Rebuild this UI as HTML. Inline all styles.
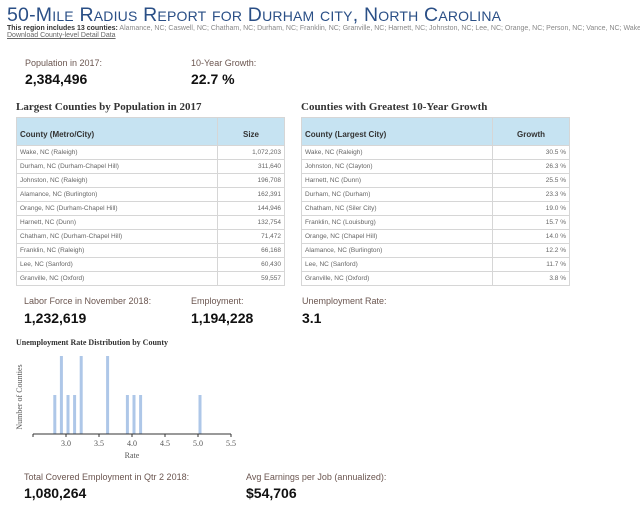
<!DOCTYPE html>
<html><head><meta charset="utf-8"><style>
body{margin:0;width:640px;height:506px;overflow:hidden;background:#fff;font-family:"Liberation Sans",sans-serif;position:relative}
.a{position:absolute;white-space:nowrap}
.title{left:7px;top:4px;font-size:19.5px;font-variant:small-caps;color:#2a4f86;letter-spacing:0.2px}
.lbl{font-size:9px;color:#6b5650}
.val{font-size:14px;font-weight:bold;color:#111}
.sec{font-family:"Liberation Serif",serif;font-weight:bold;font-size:11px;color:#333}
table{position:absolute;border-collapse:collapse;font-size:6.5px;color:#666}
th{background:#c6e3f2;font-size:8px;color:#333;height:28px;text-align:left;padding:6px 3px 0;border:1px solid #d6d6d6;vertical-align:middle;box-sizing:border-box}
th.r{text-align:center}
td{height:13px;padding:0 3px;border:1px solid #d6d6d6}
td.r{text-align:right}
</style></head><body>
<div class="a title">50-Mile Radius Report for Durham city, North Carolina</div>
<div class="a" style="left:7px;top:25px;font-size:7px;color:#888"><b style="color:#333">This region includes 13 counties:</b> Alamance, NC; Caswell, NC; Chatham, NC; Durham, NC; Franklin, NC; Granville, NC; Harnett, NC; Johnston, NC; Lee, NC; Orange, NC; Person, NC; Vance, NC; Wake</div>
<div class="a" style="left:7px;top:32px;font-size:7px;color:#666;text-decoration:underline">Download County-level Detail Data</div>

<div class="a lbl" style="left:25px;top:58px">Population in 2017:</div>
<div class="a val" style="left:25px;top:71px">2,384,496</div>
<div class="a lbl" style="left:191px;top:58px">10-Year Growth:</div>
<div class="a val" style="left:191px;top:71px">22.7 %</div>

<div class="a sec" style="left:16px;top:101px">Largest Counties by Population in 2017</div>
<div class="a sec" style="left:301px;top:101px">Counties with Greatest 10-Year Growth</div>

<table style="left:16px;top:117px;width:269px">
<tr><th style="width:201px">County (Metro/City)</th><th class="r">Size</th></tr>
<tr><td>Wake, NC (Raleigh)</td><td class="r">1,072,203</td></tr>
<tr><td>Durham, NC (Durham-Chapel Hill)</td><td class="r">311,640</td></tr>
<tr><td>Johnston, NC (Raleigh)</td><td class="r">196,708</td></tr>
<tr><td>Alamance, NC (Burlington)</td><td class="r">162,391</td></tr>
<tr><td>Orange, NC (Durham-Chapel Hill)</td><td class="r">144,946</td></tr>
<tr><td>Harnett, NC (Dunn)</td><td class="r">132,754</td></tr>
<tr><td>Chatham, NC (Durham-Chapel Hill)</td><td class="r">71,472</td></tr>
<tr><td>Franklin, NC (Raleigh)</td><td class="r">66,168</td></tr>
<tr><td>Lee, NC (Sanford)</td><td class="r">60,430</td></tr>
<tr><td>Granville, NC (Oxford)</td><td class="r">59,557</td></tr>
</table>
<table style="left:301px;top:117px;width:269px">
<tr><th style="width:191px">County (Largest City)</th><th class="r">Growth</th></tr>
<tr><td>Wake, NC (Raleigh)</td><td class="r">30.5 %</td></tr>
<tr><td>Johnston, NC (Clayton)</td><td class="r">26.3 %</td></tr>
<tr><td>Harnett, NC (Dunn)</td><td class="r">25.5 %</td></tr>
<tr><td>Durham, NC (Durham)</td><td class="r">23.3 %</td></tr>
<tr><td>Chatham, NC (Siler City)</td><td class="r">19.0 %</td></tr>
<tr><td>Franklin, NC (Louisburg)</td><td class="r">15.7 %</td></tr>
<tr><td>Orange, NC (Chapel Hill)</td><td class="r">14.0 %</td></tr>
<tr><td>Alamance, NC (Burlington)</td><td class="r">12.2 %</td></tr>
<tr><td>Lee, NC (Sanford)</td><td class="r">11.7 %</td></tr>
<tr><td>Granville, NC (Oxford)</td><td class="r">3.8 %</td></tr>
</table>

<div class="a lbl" style="left:24px;top:296px">Labor Force in November 2018:</div>
<div class="a val" style="left:24px;top:310px">1,232,619</div>
<div class="a lbl" style="left:191px;top:296px">Employment:</div>
<div class="a val" style="left:191px;top:310px">1,194,228</div>
<div class="a lbl" style="left:302px;top:296px">Unemployment Rate:</div>
<div class="a val" style="left:302px;top:310px">3.1</div>

<div class="a sec" style="left:16px;top:338px;font-size:8px">Unemployment Rate Distribution by County</div>
<svg class="a" style="left:0;top:345px" width="250" height="115" id="chart"></svg>

<div class="a lbl" style="left:24px;top:472px">Total Covered Employment in Qtr 2 2018:</div>
<div class="a val" style="left:24px;top:485px">1,080,264</div>
<div class="a lbl" style="left:246px;top:472px">Avg Earnings per Job (annualized):</div>
<div class="a val" style="left:246px;top:485px">$54,706</div>

<script>
const rates=[2.8,2.9,3.0,3.1,3.2,3.6,3.9,4.0,4.1,5.0];
const counts=[1,2,1,1,2,2,1,1,1,1];
const ticks=[3.0,3.5,4.0,4.5,5.0,5.5];
const tickLabels=["3.0","3.5","4.0","4.5","5.0","5.5"];
const NS="http://www.w3.org/2000/svg";
const svg=document.getElementById('chart');
const X0=33,X1=231,BASE=89,TOPY=11;
const xs=v=>X0+(v-2.5)/3*(X1-X0);
const ys=c=>BASE-c/2*(BASE-TOPY);
function mk(t,a){const e=document.createElementNS(NS,t);for(const k in a)e.setAttribute(k,a[k]);svg.appendChild(e);return e;}
rates.forEach((r,i)=>{
  const b=mk('rect',{x:xs(r)+0.5,y:ys(counts[i]),width:3,height:BASE-ys(counts[i]),fill:'#aec7e8'});
  
  
});
const ax=mk('line',{x1:X0,x2:X1,y1:BASE,y2:BASE,stroke:'#333','stroke-width':1});


mk('line',{x1:X0,x2:X0,y1:BASE,y2:BASE+3,stroke:'#333'});
ticks.forEach((t,i)=>{
  mk('line',{x1:xs(t),x2:xs(t),y1:BASE,y2:BASE+3,stroke:'#333'});
  const tx=mk('text',{x:xs(t),y:BASE+12,'text-anchor':'middle','font-size':8,fill:'#555','font-family':'Liberation Serif,serif'});
  tx.textContent=tickLabels[i];
  
  
});
const xt=mk('text',{x:132,y:BASE+24,'text-anchor':'middle','font-size':8,fill:'#555','font-family':'Liberation Serif,serif'});
xt.textContent='Rate';


const yt=mk('text',{x:0,y:0,transform:'translate(22,52) rotate(-90)','text-anchor':'middle','font-size':8,fill:'#555','font-family':'Liberation Serif,serif'});
yt.textContent='Number of Counties';


</script>
</body></html>
